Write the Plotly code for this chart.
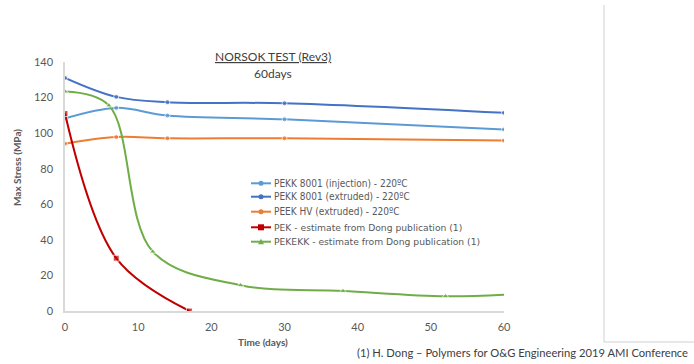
import plotly.graph_objects as go

# ---- data ----
series_names = [
    "PEKK 8001 (injection) - 220ºC",
    "PEKK 8001 (extruded) - 220ºC",
    "PEEK HV (extruded) - 220ºC",
    "PEK - estimate from Dong publication (1)",
    "PEKEKK - estimate from Dong publication (1)",
]
days_pekk = [0, 7, 14, 30, 60]
pekk_injection = [108.3, 114.2, 109.9, 107.8, 102.1]
pekk_extruded = [131.1, 120.4, 117.4, 116.8, 111.4]
peek_hv = [94.1, 97.8, 97.1, 97.1, 95.8]
days_pek = [0, 7, 17]
pek = [111.0, 29.7, 0.0]
days_pekekk = [0, 6, 12, 24, 38, 52, 60]
pekekk = [123.4, 115.6, 33.4, 14.5, 11.3, 8.3, 9.2]
pekekk_marker_count = 6  # last point has no marker

x_ticks = [0, 10, 20, 30, 40, 50, 60]
y_ticks = [0, 20, 40, 60, 80, 100, 120, 140]

colors = ["#5B9BD5", "#4472C4", "#ED7D31", "#C00000", "#70AD47"]
symbols = ["circle", "circle", "circle", "square", "triangle-up"]
msizes = [5, 5, 5, 6, 6]

W, H = 694, 364
L, R, T, B = 65, 190, 62, 53
PW, PH = W - L - R, H - T - B


def px(x):
    return (x - L) / PW


def py(y):
    return (H - B - y) / PH


fig = go.Figure()
xs = [days_pekk, days_pekk, days_pekk, days_pek, days_pekekk]
ys = [pekk_injection, pekk_extruded, peek_hv, pek, pekekk]
for i in range(5):
    msz = [msizes[i]] * len(xs[i])
    if i == 4:
        msz = [msizes[i] if k < pekekk_marker_count else 0 for k in range(len(xs[i]))]
    fig.add_trace(go.Scatter(
        x=xs[i], y=ys[i], name=series_names[i], mode="lines+markers",
        line=dict(color=colors[i], width=2, shape="spline", smoothing=1.0),
        marker=dict(symbol=symbols[i], size=msz, color=colors[i]),
        showlegend=False,
    ))

fig.update_layout(
    width=W, height=H, margin=dict(l=L, r=R, t=T, b=B, autoexpand=False),
    plot_bgcolor="white", paper_bgcolor="white",
    font=dict(family="Lato", color="#595959", size=11),
    showlegend=False,
)
fig.update_xaxes(range=[0, 60], tickvals=x_ticks, showgrid=False, zeroline=False,
                 showline=True, linecolor="#D9D9D9", linewidth=1.5, ticks="",
                 ticklabelstandoff=5, tickfont=dict(size=11, color="#595959"))
fig.update_yaxes(range=[0, 140], tickvals=y_ticks, showgrid=False, zeroline=False,
                 showline=True, linecolor="#D9D9D9", linewidth=1.5, ticks="",
                 ticklabelstandoff=8, tickfont=dict(size=11, color="#595959"))


def note(x, y, text, size, color, **kw):
    d = dict(x=px(x), y=py(y), xref="paper", yref="paper", showarrow=False,
             xanchor="center", yanchor="middle", text=text,
             font=dict(size=size, color=color, family=kw.pop("family", "Lato")))
    d.update(kw)
    return d


ann = []
shapes = []
ann.append(note(273, 57, "<u>NORSOK TEST (Rev3)</u>", 12, "#404040"))
ann.append(note(273, 73, "60days", 12, "#404040"))
ann.append(note(17, 168, "<b>Max Stress (MPa)</b>", 10, "#595959", textangle=-90))
ann.append(note(263, 342, "<b>Time (days)</b>", 10, "#595959"))
ann.append(note(690, 353, "(1) H. Dong – Polymers for O&G Engineering 2019 AMI Conference",
                11.2, "#404040", xanchor="right"))

# custom compact legend
leg_rows = [183.3, 196.7, 211.7, 227.3, 241.7]
for i, yy in enumerate(leg_rows):
    shapes.append(dict(type="line", xref="paper", yref="paper", x0=px(251), x1=px(271),
                       y0=py(yy), y1=py(yy), line=dict(color=colors[i], width=2)))
    cx, cy = 261, yy
    if symbols[i] == "circle":
        shapes.append(dict(type="circle", xref="paper", yref="paper",
                           x0=px(cx - 2.5), x1=px(cx + 2.5), y0=py(cy + 2.5), y1=py(cy - 2.5),
                           fillcolor=colors[i], line=dict(width=0)))
    elif symbols[i] == "square":
        shapes.append(dict(type="rect", xref="paper", yref="paper",
                           x0=px(cx - 3), x1=px(cx + 3), y0=py(cy + 3), y1=py(cy - 3),
                           fillcolor=colors[i], line=dict(width=0)))
    else:
        path = "M {} {} L {} {} L {} {} Z".format(px(cx - 3), py(cy + 2.5), px(cx + 3), py(cy + 2.5),
                                                  px(cx), py(cy - 3))
        shapes.append(dict(type="path", xref="paper", yref="paper", path=path,
                           fillcolor=colors[i], line=dict(width=0)))
    if i < 3:
        fam, fs = "Liberation Sans Narrow, DejaVu Sans Condensed, Liberation Sans", 10
    else:
        fam, fs = "DejaVu Sans", 9.2
    ann.append(note(272, yy, series_names[i], fs, "#595959", xanchor="left", family=fam))

# right frame
shapes.append(dict(type="line", xref="paper", yref="paper", x0=px(604), x1=px(604),
                   y0=py(5), y1=py(342), line=dict(color="#D0D0D0", width=1)))
shapes.append(dict(type="line", xref="paper", yref="paper", x0=px(604), x1=px(694),
                   y0=py(342), y1=py(342), line=dict(color="#D0D0D0", width=1)))

fig.update_layout(annotations=ann, shapes=shapes)
fig.write_html("out.html", config={"displayModeBar": False},
               post_script="document.body.style.margin='0';document.body.style.padding='0';")
